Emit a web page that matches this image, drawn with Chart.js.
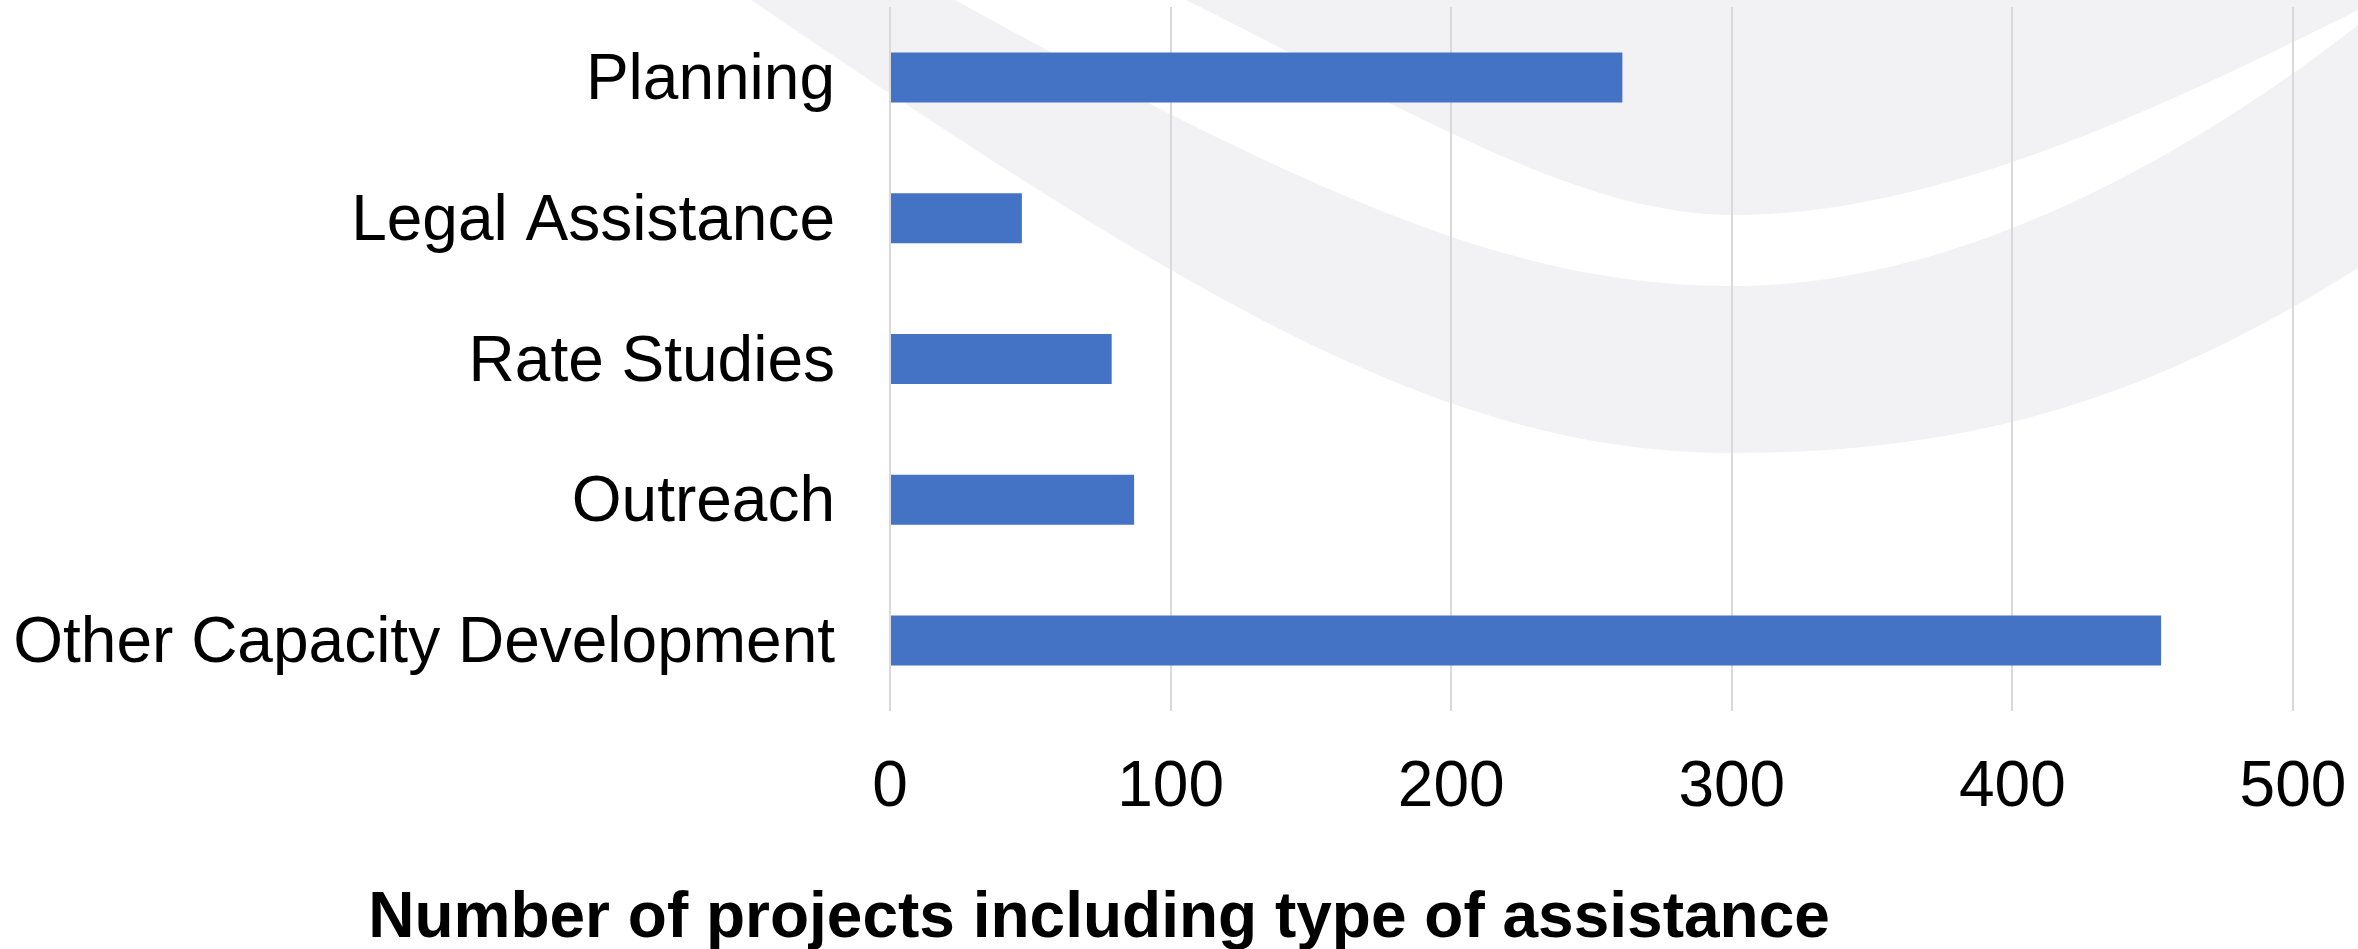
<!DOCTYPE html>
<html>
<head>
<meta charset="utf-8">
<title>Number of projects including type of assistance</title>
<script src="https://cdn.jsdelivr.net/npm/chart.js@4.4.1/dist/chart.umd.min.js"></script>
<style>
  html, body { margin: 0; padding: 0; background: #ffffff; }
  #wrap { position: relative; width: 2358px; height: 949px; }
</style>
</head>
<body>
<div id="wrap"><canvas id="assistChart"></canvas></div>
<script>
// Chart data
const categories = ['Planning', 'Legal Assistance', 'Rate Studies', 'Outreach', 'Other Capacity Development'];
const projectCounts = [261, 47, 79, 87, 453];
const xTicks = [0, 100, 200, 300, 400, 500];
const axisTitle = 'Number of projects including type of assistance';

const FONT = "'Liberation Sans', Arial, Helvetica, sans-serif";

// Decorative grey swoosh behind the plot: each curve is two cubic pieces
// [start, cp1, cp2, bottom, cp1, cp2, end] in canvas pixels
const curveOuter = [[751, 0], [1201, 306], [1450, 453], [1732, 453], [1982, 453], [2158, 394], [2358, 268]];
const curveMid = [[955, 0], [1355, 220], [1535, 286], [1735, 286], [1935, 286], [2158, 181], [2358, 25]];
const curveInner = [[1186, 0], [1436, 125], [1585, 215], [1735, 215], [1935, 215], [2158, 110], [2358, 10]];

function tracePieces(ctx, c) {
  ctx.bezierCurveTo(c[1][0], c[1][1], c[2][0], c[2][1], c[3][0], c[3][1]);
  ctx.bezierCurveTo(c[4][0], c[4][1], c[5][0], c[5][1], c[6][0], c[6][1]);
}

function traceReversed(ctx, c) {
  ctx.lineTo(c[6][0], c[6][1]);
  ctx.bezierCurveTo(c[5][0], c[5][1], c[4][0], c[4][1], c[3][0], c[3][1]);
  ctx.bezierCurveTo(c[2][0], c[2][1], c[1][0], c[1][1], c[0][0], c[0][1]);
}

const swooshPlugin = {
  id: 'swoosh',
  beforeDraw(chart) {
    const ctx = chart.ctx;
    ctx.save();
    ctx.fillStyle = '#f2f2f4';
    // region above the inner curve
    ctx.beginPath();
    ctx.moveTo(curveInner[0][0], curveInner[0][1]);
    tracePieces(ctx, curveInner);
    ctx.lineTo(chart.width, 0);
    ctx.closePath();
    ctx.fill();
    // band between outer and middle curves
    ctx.beginPath();
    ctx.moveTo(curveOuter[0][0], curveOuter[0][1]);
    tracePieces(ctx, curveOuter);
    traceReversed(ctx, curveMid);
    ctx.closePath();
    ctx.fill();
    ctx.restore();
  }
};

// x axis title, drawn under the tick labels
const bottomTitlePlugin = {
  id: 'bottomTitle',
  afterDraw(chart) {
    const ctx = chart.ctx;
    ctx.save();
    ctx.font = 'bold 64px ' + FONT;
    ctx.fillStyle = '#000000';
    ctx.textAlign = 'center';
    ctx.textBaseline = 'alphabetic';
    ctx.fillText(axisTitle, 1099, 937);
    ctx.restore();
  }
};

const ctxAssist = document.getElementById('assistChart').getContext('2d');
new Chart(ctxAssist, {
  type: 'bar',
  data: {
    labels: categories,
    datasets: [{
      label: axisTitle,
      data: projectCounts,
      backgroundColor: '#4472c4',
      borderWidth: 0,
      barPercentage: 0.355,
      categoryPercentage: 1
    }]
  },
  options: {
    indexAxis: 'y',
    responsive: true,
    maintainAspectRatio: false,
    animation: false,
    layout: { padding: { left: 0, right: 65, top: 7, bottom: 118 } },
    plugins: {
      legend: { display: false },
      tooltip: { enabled: false },
      title: { display: false }
    },
    scales: {
      x: {
        min: xTicks[0],
        max: xTicks[xTicks.length - 1],
        afterBuildTicks: (scale) => { scale.ticks = xTicks.map(v => ({ value: v })); },
        grid: { color: '#d9d9d9', lineWidth: 2, drawTicks: false },
        border: { display: false },
        ticks: { color: '#000000', font: { family: FONT, size: 64 }, padding: 39 },
        afterFit: (scale) => {
          scale.height = 120;
          scale.paddingLeft = 0;
          scale.paddingRight = 0;
        }
      },
      y: {
        grid: { display: false, drawTicks: false },
        border: { display: false },
        ticks: { color: '#000000', font: { family: FONT, size: 64 }, padding: 55, labelOffset: 4 },
        afterFit: (scale) => {
          scale.width = 890;
          scale.paddingTop = 0;
          scale.paddingBottom = 0;
        }
      }
    }
  },
  plugins: [swooshPlugin, bottomTitlePlugin]
});
</script>
</body>
</html>
